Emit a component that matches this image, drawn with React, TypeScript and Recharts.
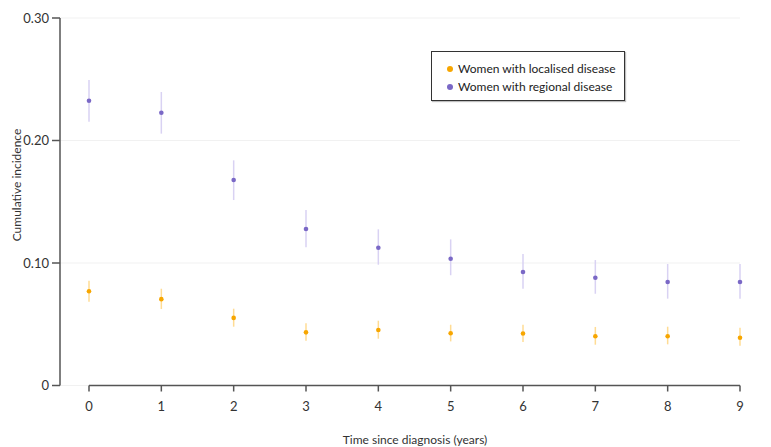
import { ScatterChart, Scatter, XAxis, YAxis, CartesianGrid, ErrorBar, ReferenceLine } from 'recharts';

const years = [0, 1, 2, 3, 4, 5, 6, 7, 8, 9];

const localised = [0.077, 0.0705, 0.0552, 0.0434, 0.0453, 0.0426, 0.0424, 0.0402, 0.0402, 0.039];
const localisedLower = [0.0684, 0.0624, 0.048, 0.0366, 0.0382, 0.036, 0.0355, 0.0333, 0.0336, 0.0325];
const localisedUpper = [0.0856, 0.079, 0.0627, 0.0508, 0.0529, 0.0496, 0.0496, 0.0478, 0.048, 0.0472];

const regional = [0.2325, 0.2227, 0.1678, 0.1278, 0.1125, 0.1035, 0.0927, 0.088, 0.0845, 0.0845];
const regionalLower = [0.2154, 0.2056, 0.1514, 0.1128, 0.0986, 0.09, 0.079, 0.0749, 0.0709, 0.0709];
const regionalUpper = [0.2494, 0.2396, 0.1838, 0.1433, 0.1275, 0.1193, 0.1073, 0.1024, 0.0992, 0.0992];

const yTicks = [0, 0.1, 0.2, 0.3];

const seriesNames = ['Women with localised disease', 'Women with regional disease'];

const ORANGE = '#f7a600';
const ORANGE_LIGHT = '#ffdc94';
const PURPLE = '#7a68c6';
const PURPLE_LIGHT = '#d9d2f3';
const FONT = 'Lato, "Open Sans", sans-serif';

const buildSeries = (vals: number[], lo: number[], hi: number[]) =>
  years.map((x, i) => ({ x, y: vals[i], err: [vals[i] - lo[i], hi[i] - vals[i]] }));

const localisedData = buildSeries(localised, localisedLower, localisedUpper);
const regionalData = buildSeries(regional, regionalLower, regionalUpper);

const dot = (color: string) => (props: any) => (
  <circle cx={props.cx} cy={props.cy} r={2.3} fill={color} />
);

const fmtY = (v: number) => (v === 0 ? '0' : v.toFixed(2));

// legend drawn on top of the chart so it takes no room from the plot
const LegendBox = () => (
  <div
    style={{
      position: 'absolute',
      left: 431,
      top: 51,
      border: '1px solid #333',
      boxShadow: '1px 1px 1px rgba(0,0,0,0.25)',
      background: '#fff',
      width: 194,
      height: 50,
      boxSizing: 'border-box',
      padding: '8px 0 0 15px',
      fontFamily: FONT,
      fontSize: 12,
      color: '#222',
      lineHeight: '18px',
      whiteSpace: 'nowrap',
    }}
  >
    {seriesNames.map((name, i) => (
      <div key={name} style={{ display: 'flex', alignItems: 'center' }}>
        <span
          style={{
            flexShrink: 0,
            width: 6,
            height: 6,
            borderRadius: 3,
            background: i === 0 ? ORANGE : PURPLE,
            display: 'inline-block',
            marginRight: 5,
          }}
        />
        {name}
      </div>
    ))}
  </div>
);

export default function App() {
  return (
    <div style={{ position: 'absolute', left: 0, top: 0, width: 771, height: 447, background: '#fff' }}>
      <ScatterChart width={771} height={447} margin={{ top: 18, right: 31, bottom: 0, left: 0 }}>
        <CartesianGrid horizontal vertical={false} stroke="#f1f1f1" />
        <XAxis
          type="number"
          dataKey="x"
          domain={[0, 9]}
          ticks={years}
          padding={{ left: 29, right: 0 }}
          axisLine={false}
          tickLine={{ stroke: '#555', strokeWidth: 1.5 }}
          tickSize={6}
          tickMargin={10}
          height={61.5}
          tick={{ fill: '#333', fontSize: 13, fontFamily: FONT }}
          label={{
            value: 'Time since diagnosis (years)',
            position: 'insideBottom',
            offset: 3,
            dx: 15,
            fill: '#333',
            fontSize: 12,
            fontFamily: FONT,
          }}
        />
        <YAxis
          type="number"
          dataKey="y"
          domain={[0, 0.3]}
          ticks={yTicks}
          width={60}
          tickFormatter={fmtY}
          axisLine={{ stroke: '#555', strokeWidth: 1.5 }}
          tickLine={{ stroke: '#555', strokeWidth: 1.5 }}
          tickSize={8}
          tickMargin={3}
          tick={{ fill: '#333', fontSize: 13, fontFamily: FONT }}
          label={{
            content: () => (
              <text
                x={16}
                y={185}
                transform="rotate(-90 16 185)"
                textAnchor="middle"
                dominantBaseline="central"
                fill="#333"
                fontSize={12}
                fontFamily={FONT}
              >
                Cumulative incidence
              </text>
            ),
          }}
        />
        <ReferenceLine
          segment={[{ x: 0, y: 0 }, { x: 9, y: 0 }]}
          stroke="#555"
          strokeWidth={1.5}
          ifOverflow="visible"
        />
        <Scatter
          name={seriesNames[0]}
          data={localisedData}
          fill={ORANGE}
          shape={dot(ORANGE)}
          isAnimationActive={false}
        >
          <ErrorBar dataKey="err" direction="y" width={0} stroke={ORANGE_LIGHT} strokeWidth={1.5} />
        </Scatter>
        <Scatter
          name={seriesNames[1]}
          data={regionalData}
          fill={PURPLE}
          shape={dot(PURPLE)}
          isAnimationActive={false}
        >
          <ErrorBar dataKey="err" direction="y" width={0} stroke={PURPLE_LIGHT} strokeWidth={1.5} />
        </Scatter>
      </ScatterChart>
      <LegendBox />
    </div>
  );
}
